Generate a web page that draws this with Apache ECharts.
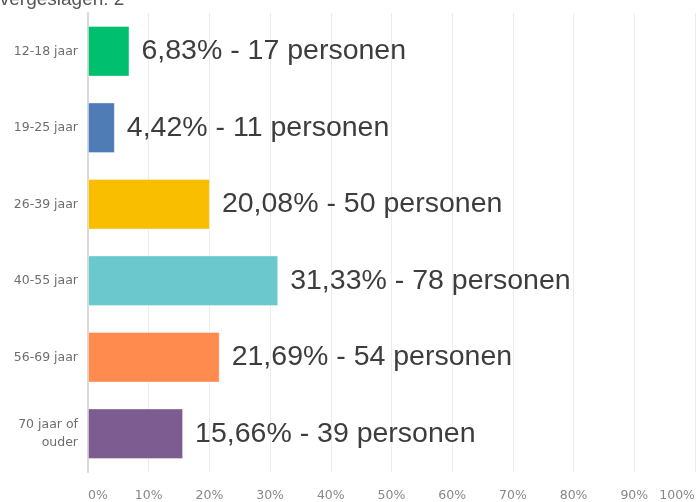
<!DOCTYPE html>
<html>
<head>
<meta charset="utf-8">
<script src="https://cdn.jsdelivr.net/npm/echarts@6/dist/echarts.min.js"></script>
<style>
  html, body { margin: 0; padding: 0; background: #fff; }
  #chart { width: 698px; height: 502px; }
</style>
</head>
<body>
<div id="chart"></div>
<script>
// leeftijdsgroepen en antwoorden
const categories = ['12-18 jaar', '19-25 jaar', '26-39 jaar', '40-55 jaar', '56-69 jaar', '70 jaar of\nouder'];
const percentages = [6.83, 4.42, 20.08, 31.33, 21.69, 15.66];
const persons = [17, 11, 50, 78, 54, 39];
const barColors = ['#00bf6f', '#507cb6', '#f9be00', '#6bc8cd', '#ff8b4f', '#7d5c91'];
const tickValues = [0, 10, 20, 30, 40, 50, 60, 70, 80, 90, 100];

const chart = echarts.init(document.getElementById('chart'));

const option = {
  animation: false,
  grid: { left: 88, right: 3, top: 13, bottom: 29, containLabel: false },
  graphic: [{
    type: 'text',
    left: -15,
    top: -10,
    style: { text: 'Overgeslagen: 2', font: '19px "Liberation Sans", sans-serif', fill: '#555' }
  }],
  xAxis: {
    type: 'value',
    min: 0,
    max: 100,
    interval: 10,
    axisLine: { show: false },
    axisTick: { show: false },
    splitLine: { lineStyle: { color: '#ececec', width: 1 } },
    axisLabel: {
      margin: 17,
      color: '#888',
      fontSize: 12.5,
      fontFamily: '"DejaVu Sans", sans-serif',
      alignMinLabel: 'left',
      alignMaxLabel: 'right',
      formatter: v => tickValues.includes(v) ? v + '%' : ''
    }
  },
  yAxis: {
    type: 'category',
    inverse: true,
    data: categories,
    axisLine: { lineStyle: { color: '#d9d9d9', width: 2 } },
    axisTick: { show: false },
    axisLabel: {
      margin: 10,
      color: '#6e6e6e',
      fontSize: 12.5,
      lineHeight: 18,
      fontFamily: '"DejaVu Sans", sans-serif',
      align: 'right'
    }
  },
  series: [{
    type: 'bar',
    barWidth: '66%',
    data: percentages.map((v, i) => ({
      value: v,
      itemStyle: { color: barColors[i], borderColor: 'rgba(255,255,255,0.35)', borderWidth: 1 }
    })),
    label: {
      show: true,
      position: 'right',
      distance: 12,
      color: '#3d3d3d',
      fontSize: 28.5,
      fontFamily: '"Liberation Sans", sans-serif',
      formatter: p => percentages[p.dataIndex].toFixed(2).replace('.', ',') + '% - ' + persons[p.dataIndex] + ' personen'
    }
  }]
};

chart.setOption(option);
</script>
</body>
</html>
